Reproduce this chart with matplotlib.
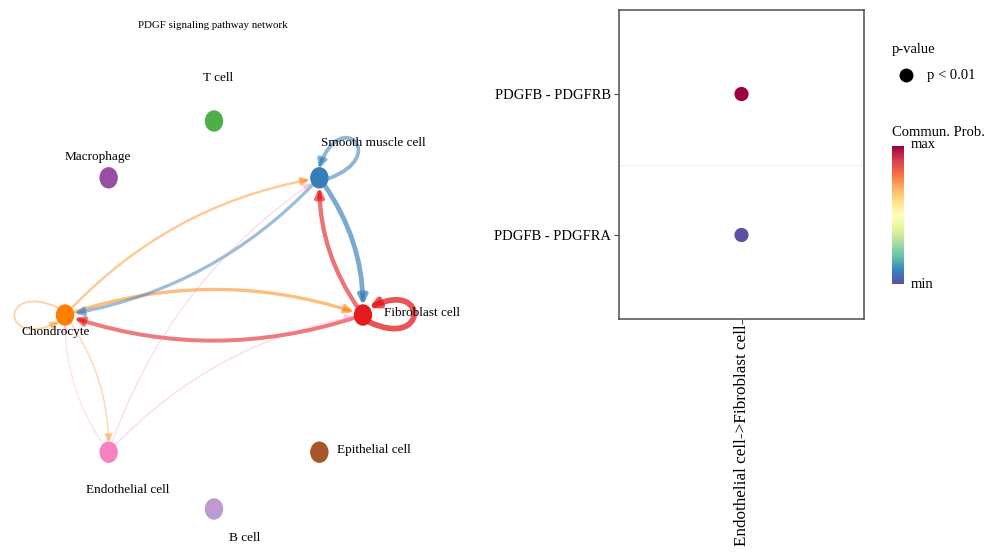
import numpy as np
import matplotlib.pyplot as plt
from matplotlib.patches import Ellipse, FancyArrowPatch
from matplotlib.path import Path
from matplotlib.lines import Line2D

plt.rcParams['font.family'] = ['Liberation Serif', 'DejaVu Serif']

# cell groups, in circle-layout order (counter-clockwise from the right)
CELL_TYPES = ["Fibroblast cell", "Smooth muscle cell", "T cell", "Macrophage",
              "Chondrocyte", "Endothelial cell", "B cell", "Epithelial cell"]
CELL_COLORS = ["#E41A1C", "#377EB8", "#4DAF4A", "#984EA3",
               "#FF7F00", "#F781BF", "#BC9BCF", "#A65628"]

# PDGF interaction strength between groups
EDGE_SOURCES = ["Fibroblast cell", "Smooth muscle cell", "Fibroblast cell",
                "Smooth muscle cell", "Fibroblast cell", "Chondrocyte",
                "Smooth muscle cell", "Chondrocyte", "Chondrocyte",
                "Chondrocyte", "Endothelial cell", "Endothelial cell",
                "Endothelial cell"]
EDGE_TARGETS = ["Fibroblast cell", "Smooth muscle cell", "Smooth muscle cell",
                "Fibroblast cell", "Chondrocyte", "Fibroblast cell",
                "Chondrocyte", "Smooth muscle cell", "Chondrocyte",
                "Endothelial cell", "Chondrocyte", "Smooth muscle cell",
                "Fibroblast cell"]
EDGE_WEIGHTS = [1.0, 0.62, 0.72, 0.82, 0.66, 0.52, 0.5, 0.34, 0.22,
                0.14, 0.08, 0.1, 0.12]

# bubble plot: ligand-receptor pairs for one sender->receiver group
LR_PAIRS = ["PDGFB - PDGFRA", "PDGFB - PDGFRB"]
LR_PROB = [0.0052, 0.0147]
BUBBLE_GROUP = "Endothelial cell->Fibroblast cell"

W, H = 989, 552
fig = plt.figure(figsize=(W / 100, H / 100), dpi=100)

# ---- network (drawn in pixel units) ----
ax = fig.add_axes([0, 0, 1, 1])
ax.set_xlim(0, W)
ax.set_ylim(H, 0)
ax.axis('off')

cx, cy, rx, ry = 214, 315, 149, 194
angles = 2 * np.pi * np.arange(len(CELL_TYPES)) / len(CELL_TYPES)
pos = {name: (cx + rx * np.cos(a), cy - ry * np.sin(a))
       for name, a in zip(CELL_TYPES, angles)}
ang = dict(zip(CELL_TYPES, angles))
col = dict(zip(CELL_TYPES, CELL_COLORS))

wmax = max(EDGE_WEIGHTS)


def rot(v, deg):
    t = np.deg2rad(deg)
    return np.array([v[0] * np.cos(t) - v[1] * np.sin(t),
                     v[0] * np.sin(t) + v[1] * np.cos(t)])


for src, tgt, w in zip(EDGE_SOURCES, EDGE_TARGETS, EDGE_WEIGHTS):
    lw = 0.5 + 3.6 * w / wmax
    alpha = 0.25 + 0.5 * w / wmax
    style = '-|>,head_length=0.5,head_width=0.25'
    if src == tgt:
        c = np.array(pos[src])
        u = np.array([np.cos(ang[src]), -np.sin(ang[src])])
        r0, L = 9, 74
        verts = [c + r0 * rot(u, 50), c + L * rot(u, 28),
                 c + L * rot(u, -28), c + r0 * rot(u, -50)]
        path = Path(verts, [Path.MOVETO, Path.CURVE4, Path.CURVE4, Path.CURVE4])
        arr = FancyArrowPatch(path=path, arrowstyle=style, mutation_scale=10,
                              lw=lw, color=col[src], alpha=alpha, zorder=1)
    else:
        arr = FancyArrowPatch(pos[src], pos[tgt],
                              connectionstyle='arc3,rad=-0.17',
                              arrowstyle=style, mutation_scale=10,
                              shrinkA=6, shrinkB=7, lw=lw,
                              color=col[src], alpha=alpha, zorder=1)
    ax.add_patch(arr)

for name in CELL_TYPES:
    ax.add_patch(Ellipse(pos[name], 17, 20, color=col[name], zorder=3))

label_offsets = {
    "Fibroblast cell": (21, -2, 'left'),
    "Smooth muscle cell": (2, -35, 'left'),
    "T cell": (4, -43, 'center'),
    "Macrophage": (-11, -21, 'center'),
    "Chondrocyte": (-9, 17, 'center'),
    "Endothelial cell": (19, 38, 'center'),
    "B cell": (31, 29, 'center'),
    "Epithelial cell": (18, -2, 'left'),
}
for name in CELL_TYPES:
    dx, dy, ha = label_offsets[name]
    x, y = pos[name]
    ax.text(x + dx, y + dy, name, ha=ha, va='center', fontsize=9.5, zorder=4)

ax.text(213, 25, "PDGF signaling pathway network", ha='center', va='center',
        fontsize=7.8)

# ---- bubble plot ----
ax2 = fig.add_axes([619 / W, 1 - 319 / H, 245 / W, 309 / H])
lo, hi = min(LR_PROB), max(LR_PROB)
cmap = plt.get_cmap('Spectral_r')
ypos = np.arange(1, len(LR_PAIRS) + 1)
ax2.axhline(1.5, color='#EDEDED', lw=0.6, zorder=0)
ax2.scatter(np.zeros(len(LR_PAIRS)), ypos, s=85,
            c=[cmap((p - lo) / (hi - lo)) for p in LR_PROB], zorder=2)
ax2.set_xlim(-0.5, 0.5)
ax2.set_ylim(0.404, 2.596)
ax2.set_yticks(ypos)
ax2.set_yticklabels(LR_PAIRS, fontsize=10.5)
ax2.set_xticks([0])
ax2.set_xticklabels([BUBBLE_GROUP], rotation=90, fontsize=12.3)
for sp in ax2.spines.values():
    sp.set_color('#4D4D4D')
    sp.set_linewidth(1.1)
ax2.tick_params(length=3.5, width=0.8, color='#4D4D4D', pad=2)
ax2.tick_params(axis='x', pad=0.5)

# legend: p-value
fig.text(892 / W, 1 - 50 / H, "p-value", fontsize=10.5, va='center')
fig.add_artist(Line2D([906 / W], [1 - 75 / H], marker='o', ms=9,
                      color='black', transform=fig.transFigure))
fig.text(927 / W, 1 - 75 / H, "p < 0.01", fontsize=10.5, va='center')

# legend: colour bar
fig.text(892 / W, 1 - 133 / H, "Commun. Prob.", fontsize=10.5, va='center')
cax = fig.add_axes([892 / W, 1 - 284 / H, 12 / W, 138 / H])
grad = np.linspace(0, 1, 256).reshape(-1, 1)
cax.imshow(grad, aspect='auto', cmap=cmap, origin='lower')
cax.axis('off')
fig.text(911 / W, 1 - 145 / H, "max", fontsize=10.5, va='center')
fig.text(911 / W, 1 - 284 / H, "min", fontsize=10.5, va='center')

fig.savefig("out.png", dpi=100)
